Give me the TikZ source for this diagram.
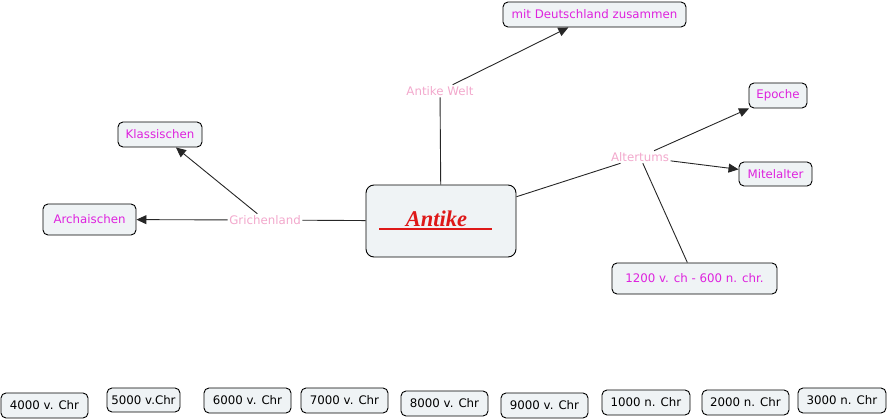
\documentclass[tikz,border=0pt]{standalone}
\usepackage{fontspec}
\setmainfont{DejaVu Sans}
\newfontfamily\antikefont{Liberation Serif}
\usetikzlibrary{arrows.meta}
\definecolor{boxfill}{RGB}{239,243,245}
\definecolor{conceptmag}{RGB}{222,34,222}
\definecolor{linkpink}{RGB}{242,168,204}
\definecolor{antikered}{RGB}{222,24,24}
\tikzset{
  cbox/.style={draw=black, line width=0.9pt, fill=boxfill, rounded corners=5pt,
    inner sep=0pt, font=\fontsize{11.8}{14}\selectfont},
  concept/.style={cbox, text=conceptmag},
  yearbox/.style={cbox, text=black},
  linklabel/.style={text=linkpink, inner sep=1.5pt, font=\fontsize{11.8}{14}\selectfont},
  conn/.style={draw=black!85, line width=0.9pt},
  arr/.style={conn, -{Triangle[length=10pt,width=9pt]}},
}
\begin{document}
\begin{tikzpicture}[x=1pt,y=-1pt]
\useasboundingbox (0,0) rectangle (889,420);
% main node
\node[cbox, rounded corners=8pt, minimum width=150pt, minimum height=72pt] (antike) at (441,221) {};
\node[anchor=base, inner sep=0pt, text=antikered,
  font=\antikefont\fontsize{22.5}{24}\selectfont\bfseries\itshape] (antiketext) at (436.5,226) {Antike};
\draw[antikered, line width=1.6pt] ([xshift=-62pt,yshift=-8pt]antike.center) -- ([xshift=51pt,yshift=-8pt]antike.center);
% concepts
\node[concept, minimum width=183pt, minimum height=25pt] (mdz) at (594.5,14.5) {mit Deutschland zusammen};
\node[concept, minimum width=58pt, minimum height=25pt] (epoche) at (778,95.5) {Epoche};
\node[concept, minimum width=73pt, minimum height=24pt] (mitel) at (775.5,174) {Mitelalter};
\node[concept, minimum width=165pt, minimum height=31pt] (zeit) at (694.5,278.5) {1200 v. ch - 600 n. chr.};
\node[concept, minimum width=84pt, minimum height=25pt] (klass) at (160,134.5) {Klassischen};
\node[concept, minimum width=93pt, minimum height=31pt] (archa) at (89.5,219.5) {Archaischen};
% link labels
\node[linklabel] (welt) at (440,91) {Antike Welt};
\node[linklabel] (alter) at (640,157) {Altertums};
\node[linklabel] (grich) at (265,220) {Grichenland};
% connectors
\draw[conn] (antike) -- (welt);
\draw[arr] (welt) -- (mdz);
\draw[conn] (antike) -- (alter);
\draw[arr] (alter) -- (epoche);
\draw[arr] (alter) -- (mitel);
\draw[conn] (alter) -- (zeit);
\draw[conn] (antike) -- (grich);
\draw[arr] (grich) -- (klass);
\draw[arr] (grich) -- (archa);
% year boxes
\node[yearbox, minimum width=87pt, minimum height=25pt] (y4000) at (44.5,405.5) {4000 v. Chr};
\node[yearbox, minimum width=73pt, minimum height=24pt] (y5000) at (143.5,400) {5000 v.Chr};
\node[yearbox, minimum width=87pt, minimum height=25pt] (y6000) at (247.5,400.5) {6000 v. Chr};
\node[yearbox, minimum width=87pt, minimum height=25pt] (y7000) at (344.5,400.5) {7000 v. Chr};
\node[yearbox, minimum width=87pt, minimum height=25pt] (y8000) at (444.5,403.5) {8000 v. Chr};
\node[yearbox, minimum width=87pt, minimum height=25pt] (y9000) at (544.5,405.5) {9000 v. Chr};
\node[yearbox, minimum width=88pt, minimum height=25pt] (n1000) at (646,402.5) {1000 n. Chr};
\node[yearbox, minimum width=87pt, minimum height=25pt] (n2000) at (745.5,402.5) {2000 n. Chr};
\node[yearbox, minimum width=88pt, minimum height=25pt] (n3000) at (842,400.5) {3000 n. Chr};
\end{tikzpicture}
\end{document}
